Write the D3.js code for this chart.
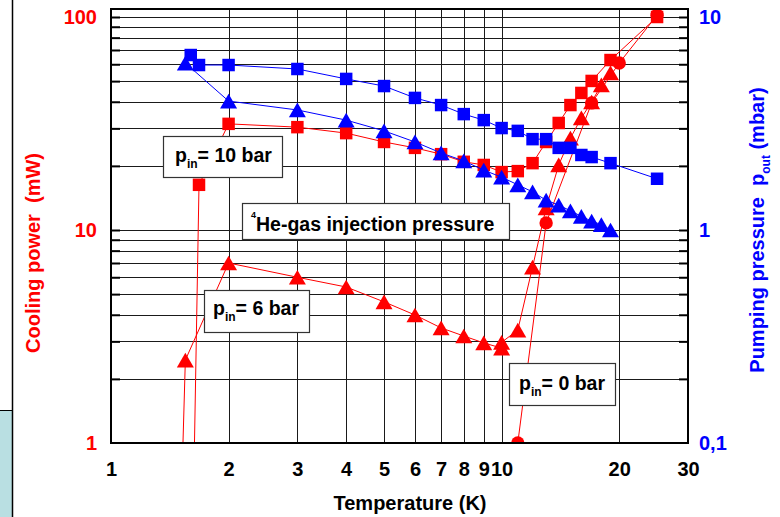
<!DOCTYPE html>
<html>
<head>
<meta charset="utf-8">
<script src="https://cdn.jsdelivr.net/npm/d3@7"></script>
<style>
  body { margin: 0; background: #fff; }
  svg { display: block; }
  text { font-family: "Liberation Sans", Arial, sans-serif; font-weight: bold; }
</style>
</head>
<body>
<svg id="chart" width="780" height="517"></svg>
<script>
// Temperature axis (K), log scale
const tempTicks = [1, 2, 3, 4, 5, 6, 7, 8, 9, 10, 20, 30];
const tempGrid = [2, 3, 4, 5, 6, 7, 8, 9, 10, 20];
// Cooling power axis (mW), left, log scale
const powerTicks = [1, 10, 100];
const powerGrid = [2, 3, 4, 5, 6, 7, 8, 9, 10, 20, 30, 40, 50, 60, 70, 80, 90, 100];
// Pumping pressure axis (mbar), right, log scale
const pressureTicks = [0.1, 1, 10];
const pressureTickLabels = ["0,1", "1", "10"];
const pressureMinor = [0.2, 0.3, 0.4, 0.5, 0.6, 0.7, 0.8, 0.9, 1, 2, 3, 4, 5, 6, 7, 8, 9, 10];

// Cooling power (mW) vs temperature (K)
const power10bar = [[1.6, 0.1], [1.68, 16.3], [2, 31.5], [3, 30.4], [4, 28.5], [5, 25.9], [6, 24.3],
  [7, 22.7], [8, 20.9], [9, 20.2], [10, 18.7], [11, 18.9], [12, 20.6], [13, 25.9], [14, 31.8],
  [15, 38.6], [16, 44.0], [17, 50.1], [19, 62.8], [25, 100]];
const power6bar = [[1.5, 0.3], [1.55, 2.45], [2, 7.0], [3, 6.0], [4, 5.4], [5, 4.6], [6, 3.99],
  [7, 3.47], [8, 3.18], [9, 2.95], [10, 2.79], [10, 2.97], [11, 3.39], [12, 6.7], [13, 12.7],
  [14, 20.2], [15, 27.0], [16, 33.6], [17, 39.9], [18, 48.0], [19, 54.6]];
const power0bar = [[11, 1.0], [13, 10.8], [17, 39.5], [20, 60.8], [25, 102]];

// Pumping pressure p_out (mbar) vs temperature (K)
const pressure10bar = [[1.6, 6.63], [1.68, 5.95], [2, 5.95], [3, 5.70], [4, 5.12], [5, 4.74], [6, 4.17],
  [7, 3.86], [8, 3.50], [9, 3.28], [10, 3.01], [11, 2.92], [12, 2.67], [13, 2.67], [14, 2.43],
  [15, 2.43], [16, 2.25], [17, 2.20], [19, 2.06], [25, 1.74]];
const pressure6bar = [[1.55, 6.08], [2, 4.03], [3, 3.66], [4, 3.28], [5, 2.92], [6, 2.59], [7, 2.30],
  [8, 2.11], [9, 1.91], [10, 1.77], [11, 1.63], [12, 1.51], [13, 1.38], [14, 1.31], [15, 1.23],
  [16, 1.16], [17, 1.10], [18, 1.06], [19, 1.00]];

const RED = "#ff0000", BLUE = "#0000ff";
const L = 111, R = 688, TOP = 9, B = 443;
const FS = 20;

const svg = d3.select("#chart");
const x = d3.scaleLog().domain([1, 30]).range([L, R]);
const yP = d3.scaleLog().domain([1, 100]).range([B, 17]);
const yQ = d3.scaleLog().domain([0.1, 10]).range([B, 17]);

// side panel decoration at the far left
svg.append("rect").attr("x", 0).attr("y", 410).attr("width", 12).attr("height", 107).attr("fill", "#b9dfe2");
svg.append("line").attr("x1", 0).attr("x2", 12).attr("y1", 410.5).attr("y2", 410.5).attr("stroke", "#000");
svg.append("line").attr("x1", 12.5).attr("x2", 12.5).attr("y1", 0).attr("y2", 517).attr("stroke", "#000").attr("stroke-width", 1.5);

// grid
const gy = svg.append("g").attr("transform", `translate(${L},0)`)
  .call(d3.axisLeft(yP).tickValues(powerGrid).tickSize(-(R - L)).tickFormat(""));
const gx = svg.append("g").attr("transform", `translate(0,${B})`)
  .call(d3.axisBottom(x).tickValues(tempGrid).tickSize(-(B - TOP)).tickFormat(""));
[gx, gy].forEach(g => {
  g.select(".domain").remove();
  g.selectAll("line").attr("stroke", "#1a1a1a").attr("stroke-width", 1).attr("shape-rendering", "crispEdges");
});

// inner ticks on the left and right axes
const tl = svg.append("g").attr("transform", `translate(${L},0)`)
  .call(d3.axisRight(yP).tickValues(powerGrid).tickSize(9).tickFormat(""));
const tr = svg.append("g").attr("transform", `translate(${R},0)`)
  .call(d3.axisLeft(yQ).tickValues(pressureMinor).tickSize(9).tickFormat(""));
[tl, tr].forEach(g => {
  g.select(".domain").remove();
  g.selectAll("line").attr("stroke", "#000").attr("stroke-width", 2);
});

// data
svg.append("clipPath").attr("id", "plotClip").append("rect")
  .attr("x", L).attr("y", TOP).attr("width", R - L).attr("height", B - TOP);
const plot = svg.append("g").attr("clip-path", "url(#plotClip)");

// triangle centred on its bounding box
const boxTriangle = {
  draw(ctx, size) {
    const s = Math.sqrt(size * 4 / Math.sqrt(3));
    const h = s * Math.sqrt(3) / 2;
    ctx.moveTo(0, -h / 2);
    ctx.lineTo(s / 2, h / 2);
    ctx.lineTo(-s / 2, h / 2);
    ctx.closePath();
  }
};

function series(data, yScale, color, type, size) {
  const line = d3.line().x(d => x(d[0])).y(d => yScale(d[1]));
  plot.append("path").datum(data).attr("d", line)
    .attr("fill", "none").attr("stroke", color).attr("stroke-width", 1);
  plot.append("g").selectAll("path").data(data).join("path")
    .attr("transform", d => `translate(${x(d[0])},${yScale(d[1])})`)
    .attr("d", d3.symbol().type(type).size(size))
    .attr("fill", color);
}

series(power10bar, yP, RED, d3.symbolSquare, 156);
series(power6bar, yP, RED, boxTriangle, 125);
series(power0bar, yP, RED, d3.symbolCircle, 140);
series(pressure10bar, yQ, BLUE, d3.symbolSquare, 156);
series(pressure6bar, yQ, BLUE, boxTriangle, 125);

// annotation boxes
function box(x0, y0, w, h) {
  svg.append("rect").attr("x", x0 + 0.5).attr("y", y0 + 0.5).attr("width", w).attr("height", h)
    .attr("fill", "#fff").attr("stroke", "#333").attr("stroke-width", 1.2);
}
function pinLabel(tx, ty, value) {
  const t = svg.append("text").attr("x", tx).attr("y", ty).attr("font-size", 19.5).attr("fill", "#000");
  t.append("tspan").text("p");
  t.append("tspan").attr("font-size", 12).attr("dy", 6).text("in");
  t.append("tspan").attr("dy", -6).text(`= ${value} bar`);
}
box(163, 136, 119, 41); pinLabel(175, 162, 10);
box(204, 290, 105, 42); pinLabel(213, 315, 6);
box(509, 363, 106, 42); pinLabel(519, 390, 0);

box(242, 203, 267, 36);
const he = svg.append("text").attr("x", 251).attr("y", 231).attr("font-size", 19.5).attr("fill", "#000");
he.append("tspan").attr("font-size", 9).attr("dy", -13).text("4");
he.append("tspan").attr("dy", 13).text("He-gas injection pressure");

// frame
svg.append("rect").attr("x", L).attr("y", TOP).attr("width", R - L).attr("height", B - TOP)
  .attr("fill", "none").attr("stroke", "#000").attr("stroke-width", 2);

// tick labels
const al = svg.append("g").attr("transform", `translate(${L},0)`)
  .call(d3.axisLeft(yP).tickValues(powerTicks).tickSize(0).tickPadding(14).tickFormat(d3.format("d")));
const ar = svg.append("g").attr("transform", `translate(${R},0)`)
  .call(d3.axisRight(yQ).tickValues(pressureTicks).tickSize(0).tickPadding(11)
    .tickFormat((d, i) => pressureTickLabels[i]));
const ab = svg.append("g").attr("transform", `translate(0,${B})`)
  .call(d3.axisBottom(x).tickValues(tempTicks).tickSize(0).tickPadding(19).tickFormat(d3.format("d")));
[al, ar, ab].forEach(g => g.select(".domain").remove());
al.selectAll("text").attr("fill", RED);
ar.selectAll("text").attr("fill", BLUE);
ab.selectAll("text").attr("fill", "#000");
[al, ar, ab].forEach(g => g.attr("font-size", FS).attr("font-family", null)
  .selectAll("text").attr("font-weight", "bold"));

// axis titles
svg.append("text").attr("x", 410).attr("y", 510).attr("text-anchor", "middle")
  .attr("font-size", FS).attr("fill", "#000").text("Temperature (K)");

svg.append("text").attr("transform", "translate(40,253) rotate(-90)").attr("text-anchor", "middle")
  .attr("font-size", FS).attr("fill", RED).attr("xml:space", "preserve").text("Cooling power  (mW)");

const pt = svg.append("text").attr("transform", "translate(764,230) rotate(-90)").attr("text-anchor", "middle")
  .attr("font-size", FS).attr("fill", BLUE).attr("xml:space", "preserve");
pt.append("tspan").text("Pumping pressure  p");
pt.append("tspan").attr("font-size", 12).attr("dy", 6).text("out");
pt.append("tspan").attr("dy", -6).text(" (mbar)");
</script>
</body>
</html>
